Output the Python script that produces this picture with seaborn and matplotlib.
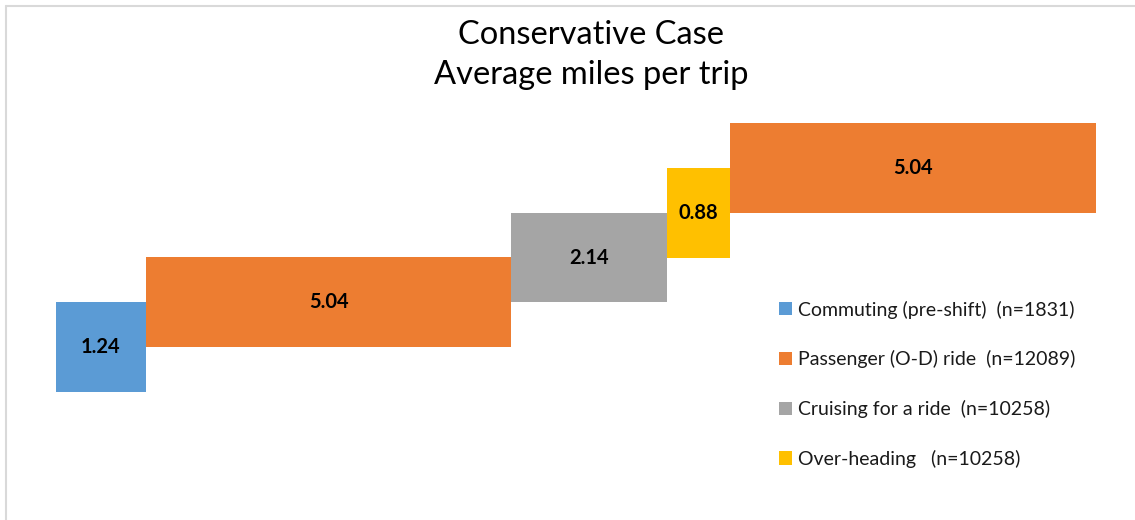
import matplotlib
matplotlib.use("Agg")
import matplotlib.pyplot as plt
from matplotlib.patches import Patch
from matplotlib.lines import Line2D
import seaborn as sns
import numpy as np

# ---- data ----
categories = ["Commuting (pre-shift)  (n=1831)",
              "Passenger (O-D) ride  (n=12089)",
              "Cruising for a ride  (n=10258)",
              "Over-heading   (n=10258)"]
category_colors = ["#5B9BD5", "#ED7D31", "#A5A5A5", "#FFC000"]
segment_category = [0, 1, 2, 3, 1]
segment_miles = [1.24, 5.04, 2.14, 0.88, 5.04]
value_labels = ["1.24", "5.04", "2.14", "0.88", "5.04"]
title = "Conservative Case\nAverage miles per trip"

sns.set_theme(style="white")
plt.rcParams["font.family"] = ["Lato", "DejaVu Sans"]

W, H = 1135, 520
fig = plt.figure(figsize=(W / 100, H / 100), dpi=100)
ax = fig.add_axes([56 / W, (520 - 392) / H, 1040 / W, 269 / H])

lefts = np.concatenate([[0], np.cumsum(segment_miles)[:-1]])
levels = np.arange(len(segment_miles)) * 0.5
for i, (l, w, y) in enumerate(zip(lefts, segment_miles, levels)):
    c = category_colors[segment_category[i]]
    ax.barh(y, w, left=l, height=1.0, color=c, edgecolor="none")
    ax.text(l + w / 2, y, value_labels[i], ha="center", va="center",
            fontsize=14.5, fontweight="bold", color="black")

ax.set_xlim(0, float(np.sum(segment_miles)))
ax.set_ylim(-0.5, 0.5 * (len(segment_miles) - 1) + 0.5)
ax.axis("off")

fig.text(591 / W, 1 - 55 / H, title, ha="center", va="center",
         fontsize=23.5, color="black", linespacing=1.38)

handles = [Patch(facecolor=c, edgecolor="none") for c in category_colors]
fig.legend(handles, categories, loc="upper left",
           bbox_to_anchor=(779 / W, 1 - 300.5 / H), frameon=False,
           fontsize=14, handlelength=0.68, handleheight=0.68,
           handletextpad=0.3, labelspacing=1.63, borderpad=0,
           borderaxespad=0, labelcolor="#1a1a1a")

# chart-area border (top and left visible)
border_c = "#D9D9D9"
fig.add_artist(Line2D([6 / W, 1], [1 - 6 / H, 1 - 6 / H], color=border_c, lw=1.5,
                      transform=fig.transFigure))
fig.add_artist(Line2D([6 / W, 6 / W], [0, 1 - 6 / H], color=border_c, lw=1.5,
                      transform=fig.transFigure))

fig.savefig("out.png", dpi=100, facecolor="white")
